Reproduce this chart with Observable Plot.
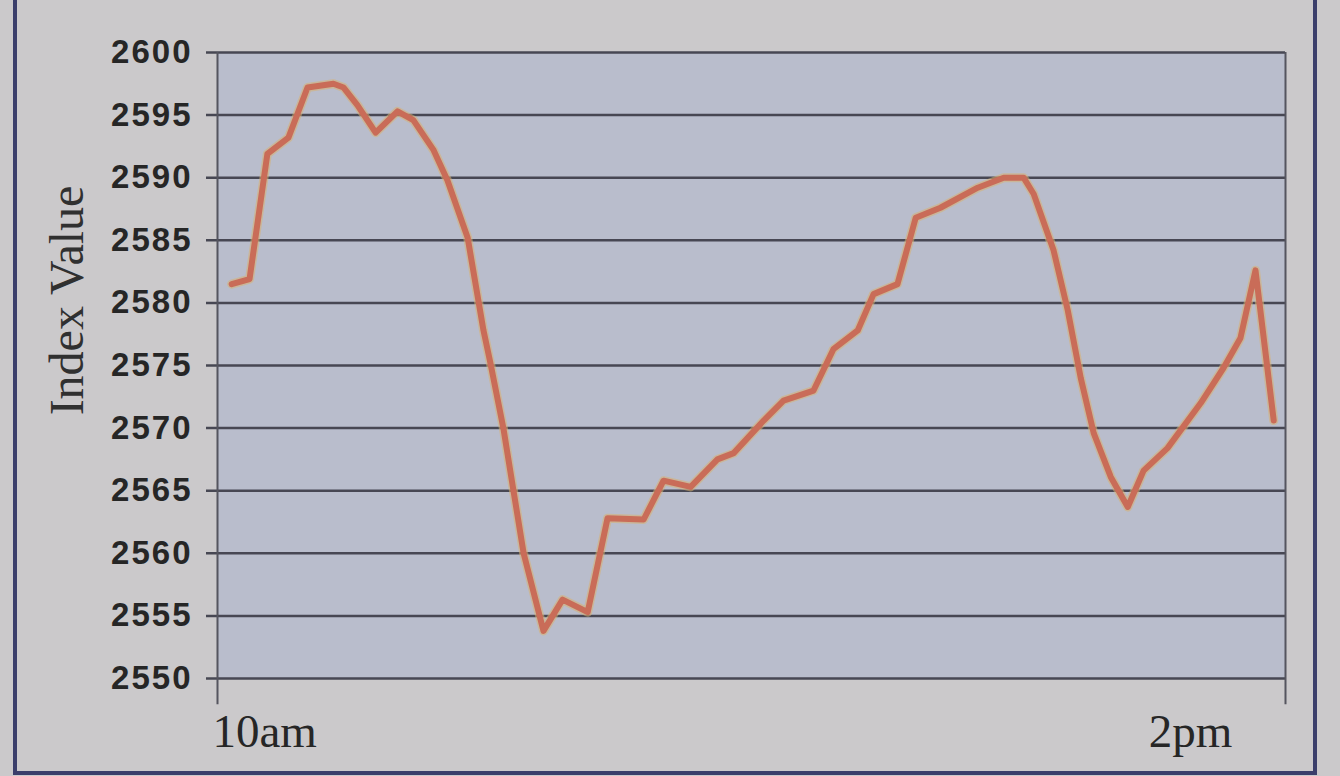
<!DOCTYPE html>
<html>
<head>
<meta charset="utf-8">
<script src="https://cdn.jsdelivr.net/npm/d3@7"></script>
<script src="https://cdn.jsdelivr.net/npm/@observablehq/plot@0.6"></script>
<style>
  html, body { margin: 0; padding: 0; background: #cbc9cb; width: 1340px; height: 776px; overflow: hidden; }
  #wrap { position: relative; width: 1340px; height: 776px; }
  #frame { position: absolute; left: 13px; top: -10px; width: 1304px; height: 785px; border: 4px solid #3b3e6b; box-sizing: border-box; pointer-events: none; }
  #chart { position: absolute; left: 0; top: 0; }
</style>
</head>
<body>
<div id="wrap"><div id="chart"></div><div id="frame"></div></div>
<script>
// minutes after 10am
const minutes = [3.5, 7.9, 12.3, 17.5, 22.2, 28.6, 31.1, 34.5, 39.0, 44.4, 48.3, 53.3, 56.7, 61.7, 65.6, 67.3, 70.5, 73.0, 75.5, 80.4, 85.1, 91.3, 96.2, 105.1, 110.0, 116.7, 123.3, 127.3, 134.7, 139.6, 147.0, 151.9, 157.9, 161.8, 167.7, 172.2, 178.3, 187.5, 193.9, 198.8, 201.3, 206.2, 209.7, 212.9, 216.1, 220.3, 224.5, 228.4, 234.3, 242.5, 248.1, 252.3, 256.0, 260.5];
const indexValues = [2581.5, 2581.9, 2591.9, 2593.2, 2597.2, 2597.5, 2597.2, 2595.8, 2593.6, 2595.3, 2594.6, 2592.2, 2589.8, 2585.2, 2577.8, 2575.2, 2570.0, 2565.0, 2560.0, 2553.8, 2556.3, 2555.3, 2562.8, 2562.7, 2565.8, 2565.3, 2567.5, 2568.0, 2570.6, 2572.2, 2573.0, 2576.3, 2577.8, 2580.7, 2581.5, 2586.8, 2587.6, 2589.2, 2590.0, 2590.0, 2588.7, 2584.2, 2579.4, 2574.0, 2569.6, 2566.1, 2563.7, 2566.6, 2568.4, 2572.0, 2574.8, 2577.2, 2582.6, 2570.6];
const yTicks = [2550, 2555, 2560, 2565, 2570, 2575, 2580, 2585, 2590, 2595, 2600];
const startLabel = [{t: 0, label: "10am"}];
const endLabel = [{t: 240, label: "2pm"}];
const xEnd = 263.4;

const data = minutes.map((t, i) => ({t, v: indexValues[i]}));
const serif = "Liberation Serif, Times New Roman, serif";

const chart = Plot.plot({
  width: 1340,
  height: 776,
  marginLeft: 217,
  marginRight: 55,
  marginTop: 52,
  marginBottom: 98,
  style: {background: "transparent", overflow: "visible"},
  x: {domain: [0, xEnd], axis: null},
  y: {domain: [2550, 2600], axis: null},
  marks: [
    Plot.frame({fill: "#b9bdcc", stroke: null}),
    Plot.ruleY(yTicks, {stroke: "#474753", strokeWidth: 2.5, insetLeft: -11}),
    Plot.ruleX([0, xEnd], {y1: 2547.9, y2: 2600, stroke: "#55555f", strokeWidth: 2}),
    Plot.text(yTicks, {y: d => d, frameAnchor: "left", dx: -25, textAnchor: "end", text: d => String(d),
      fontSize: 33, fontWeight: "bold", fontFamily: "Liberation Sans, Arial, sans-serif", fill: "#262626"}),
    Plot.text(["Index Value"], {frameAnchor: "left", dx: -150, dy: -65, rotate: -90, textAnchor: "middle", text: d => d,
      fontSize: 48, fontFamily: serif, fill: "#303030"}),
    Plot.text(startLabel, {x: "t", frameAnchor: "bottom", dy: 68, dx: -5, text: "label", textAnchor: "start",
      fontSize: 47, fontFamily: serif, fill: "#262626"}),
    Plot.text(endLabel, {x: "t", frameAnchor: "bottom", dy: 68, text: "label", textAnchor: "middle",
      fontSize: 47, fontFamily: serif, fill: "#262626"}),
    Plot.line(data, {x: "t", y: "v", stroke: "#d8b070", strokeOpacity: 0.55, strokeWidth: 9, strokeLinejoin: "round", strokeLinecap: "round"}),
    Plot.line(data, {x: "t", y: "v", stroke: "#c96c58", strokeWidth: 6, strokeLinejoin: "round", strokeLinecap: "round"})
  ]
});
chart.querySelectorAll("text").forEach(t => {
  if (/^\d{4}$/.test(t.textContent)) t.style.letterSpacing = "2px";
});
document.getElementById("chart").appendChild(chart);
</script>
</body>
</html>
